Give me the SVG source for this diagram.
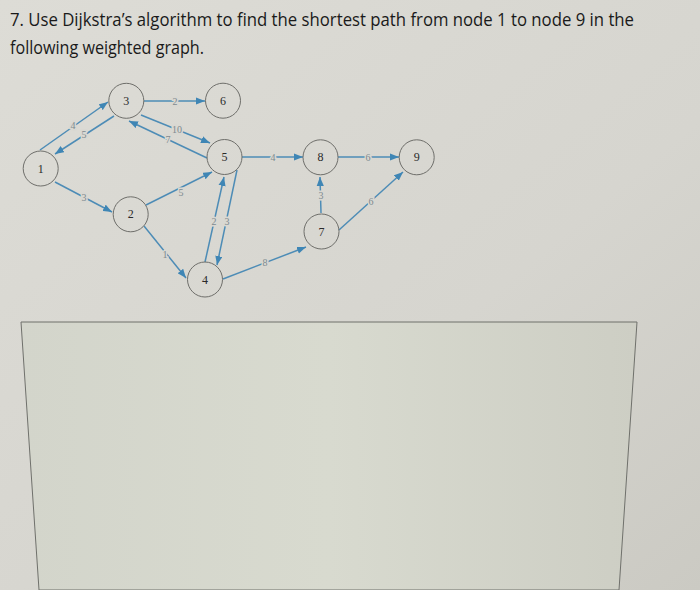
<svg xmlns="http://www.w3.org/2000/svg" width="700" height="590" viewBox="0 0 700 590">
  <defs>
    <linearGradient id="bg" x1="0" y1="0" x2="1" y2="1">
      <stop offset="0" stop-color="#dddcd6"/>
      <stop offset="0.6" stop-color="#d6d5cf"/>
      <stop offset="1" stop-color="#cbcac3"/>
    </linearGradient>
    <linearGradient id="box" x1="0" y1="0" x2="1" y2="0">
      <stop offset="0" stop-color="#d3d5cb"/>
      <stop offset="0.5" stop-color="#d8dacf"/>
      <stop offset="1" stop-color="#cdcec4"/>
    </linearGradient>
    <marker id="arr" viewBox="0 0 10 8" refX="10" refY="4" markerWidth="9" markerHeight="7.5" markerUnits="userSpaceOnUse" orient="auto">
      <path d="M0,0 L10,4 L0,8 z" fill="#3f86b5"/>
    </marker>
    <style>
      .title { font-family: "Open Sans", "Liberation Sans", sans-serif; font-size: 18px; fill: #1a1a1a; }
      .node circle { fill: none; stroke: #6e6e6a; stroke-width: 1; }
      .node text { font-family: "Liberation Serif", serif; font-size: 12px; fill: #2a2a2a; text-anchor: middle; dominant-baseline: central; }
      .edge line { stroke: #4d8cb6; stroke-width: 1.5; marker-end: url(#arr); }
      .edge text { font-family: "Liberation Serif", serif; font-size: 10px; fill: #7e8a90; text-anchor: middle; dominant-baseline: central; stroke: #d9d8d2; stroke-width: 3; paint-order: stroke; }
    </style>
  </defs>
  <rect width="700" height="590" fill="url(#bg)"/>
  <polygon points="21,322 637,322 619,590 39,590" fill="url(#box)" stroke="#6f706b" stroke-width="1"/>

  <text class="title" x="10" y="26" textLength="624" lengthAdjust="spacingAndGlyphs">7. Use Dijkstra’s algorithm to find the shortest path from node 1 to node 9 in the</text>
  <text class="title" x="10" y="53.5" textLength="194" lengthAdjust="spacingAndGlyphs">following weighted graph.</text>

  <g id="connectors">
    <g class="edge"><line x1="40" y1="150" x2="108" y2="102"/><text x="73" y="125">4</text></g>
    <g class="edge"><line x1="114" y1="116" x2="55" y2="154"/><text x="84" y="134">5</text></g>
    <g class="edge"><line x1="144" y1="101" x2="205" y2="101"/><text x="175" y="101">2</text></g>
    <g class="edge"><line x1="141" y1="115" x2="210" y2="143"/><text x="177" y="129">10</text></g>
    <g class="edge"><line x1="207" y1="158" x2="129" y2="121"/><text x="168" y="139">7</text></g>
    <g class="edge"><line x1="55" y1="182" x2="112" y2="212"/><text x="84" y="197">3</text></g>
    <g class="edge"><line x1="146" y1="205" x2="212" y2="172"/><text x="181" y="192">5</text></g>
    <g class="edge"><line x1="144" y1="226" x2="186" y2="278"/><text x="165" y="254">1</text></g>
    <g class="edge"><line x1="205" y1="262" x2="224" y2="177"/><text x="214" y="221">2</text></g>
    <g class="edge"><line x1="237" y1="170" x2="217" y2="265"/><text x="227" y="221">3</text></g>
    <g class="edge"><line x1="223" y1="279" x2="306" y2="247"/><text x="265" y="262">8</text></g>
    <g class="edge"><line x1="242" y1="157" x2="303" y2="157"/><text x="273" y="157">4</text></g>
    <g class="edge"><line x1="321" y1="213" x2="320" y2="177"/><text x="321" y="195">3</text></g>
    <g class="edge"><line x1="338" y1="157" x2="399" y2="157"/><text x="368" y="157">6</text></g>
    <g class="edge"><line x1="339" y1="230" x2="403" y2="172"/><text x="371" y="201">6</text></g>
  </g>

  <g id="node1" class="node"><circle cx="40.7" cy="168.5" r="17.5"/><text x="40.7" y="168.5">1</text></g>
  <g id="node2" class="node"><circle cx="130.7" cy="214.3" r="17.5"/><text x="130.7" y="214.3">2</text></g>
  <g id="node3" class="node"><circle cx="126.3" cy="100.8" r="17.5"/><text x="126.3" y="100.8">3</text></g>
  <g id="node4" class="node"><circle cx="205" cy="279.5" r="17.5"/><text x="205" y="279.5">4</text></g>
  <g id="node5" class="node"><circle cx="224.5" cy="157" r="17.5"/><text x="224.5" y="157">5</text></g>
  <g id="node6" class="node"><circle cx="223" cy="100.7" r="17.5"/><text x="223" y="100.7">6</text></g>
  <g id="node7" class="node"><circle cx="321.5" cy="231.5" r="17.5"/><text x="321.5" y="231.5">7</text></g>
  <g id="node8" class="node"><circle cx="320.5" cy="157.3" r="17.5"/><text x="320.5" y="157.3">8</text></g>
  <g id="node9" class="node"><circle cx="416.7" cy="157.3" r="17.5"/><text x="416.7" y="157.3">9</text></g>
</svg>
